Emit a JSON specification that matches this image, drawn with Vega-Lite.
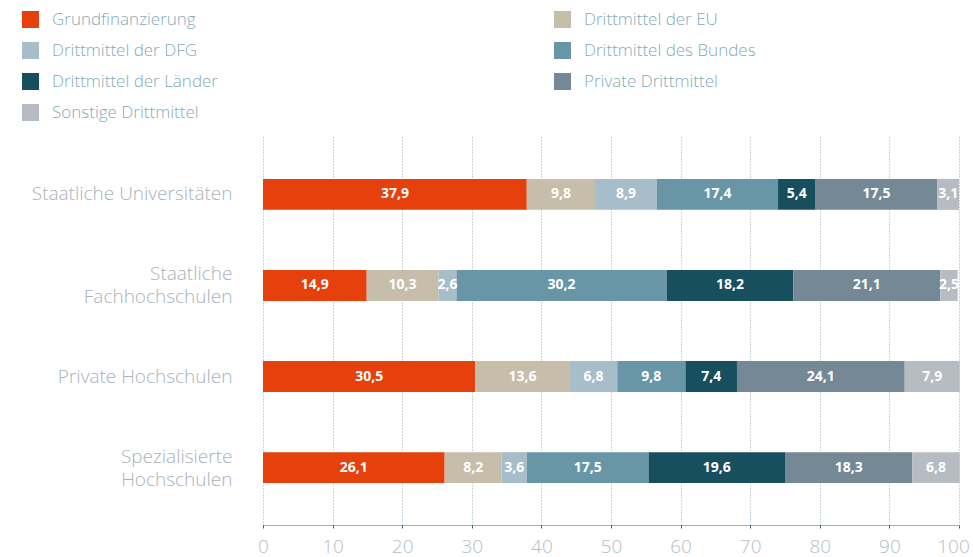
{
  "$schema": "https://vega.github.io/schema/vega-lite/v6.json",
  "width": 696,
  "height": 388,
  "autosize": "none",
  "padding": {"left": 263, "top": 137, "right": 14, "bottom": 32},
  "background": "white",
  "config": {
    "view": {"stroke": null},
    "locale": {"number": {"decimal": ",", "thousands": ".", "grouping": [3], "currency": ["", " €"]}}
  },
  "data": {
    "values": [
      {"hs": "Staatliche Universitäten", "quelle": "Grundfinanzierung", "ord": 1, "wert": 37.9},
      {"hs": "Staatliche Universitäten", "quelle": "Drittmittel der EU", "ord": 2, "wert": 9.8},
      {"hs": "Staatliche Universitäten", "quelle": "Drittmittel der DFG", "ord": 3, "wert": 8.9},
      {"hs": "Staatliche Universitäten", "quelle": "Drittmittel des Bundes", "ord": 4, "wert": 17.4},
      {"hs": "Staatliche Universitäten", "quelle": "Drittmittel der Länder", "ord": 5, "wert": 5.4},
      {"hs": "Staatliche Universitäten", "quelle": "Private Drittmittel", "ord": 6, "wert": 17.5},
      {"hs": "Staatliche Universitäten", "quelle": "Sonstige Drittmittel", "ord": 7, "wert": 3.1},
      {"hs": "Staatliche|Fachhochschulen", "quelle": "Grundfinanzierung", "ord": 1, "wert": 14.9},
      {"hs": "Staatliche|Fachhochschulen", "quelle": "Drittmittel der EU", "ord": 2, "wert": 10.3},
      {"hs": "Staatliche|Fachhochschulen", "quelle": "Drittmittel der DFG", "ord": 3, "wert": 2.6},
      {"hs": "Staatliche|Fachhochschulen", "quelle": "Drittmittel des Bundes", "ord": 4, "wert": 30.2},
      {"hs": "Staatliche|Fachhochschulen", "quelle": "Drittmittel der Länder", "ord": 5, "wert": 18.2},
      {"hs": "Staatliche|Fachhochschulen", "quelle": "Private Drittmittel", "ord": 6, "wert": 21.1},
      {"hs": "Staatliche|Fachhochschulen", "quelle": "Sonstige Drittmittel", "ord": 7, "wert": 2.5},
      {"hs": "Private Hochschulen", "quelle": "Grundfinanzierung", "ord": 1, "wert": 30.5},
      {"hs": "Private Hochschulen", "quelle": "Drittmittel der EU", "ord": 2, "wert": 13.6},
      {"hs": "Private Hochschulen", "quelle": "Drittmittel der DFG", "ord": 3, "wert": 6.8},
      {"hs": "Private Hochschulen", "quelle": "Drittmittel des Bundes", "ord": 4, "wert": 9.8},
      {"hs": "Private Hochschulen", "quelle": "Drittmittel der Länder", "ord": 5, "wert": 7.4},
      {"hs": "Private Hochschulen", "quelle": "Private Drittmittel", "ord": 6, "wert": 24.1},
      {"hs": "Private Hochschulen", "quelle": "Sonstige Drittmittel", "ord": 7, "wert": 7.9},
      {"hs": "Spezialisierte|Hochschulen", "quelle": "Grundfinanzierung", "ord": 1, "wert": 26.1},
      {"hs": "Spezialisierte|Hochschulen", "quelle": "Drittmittel der EU", "ord": 2, "wert": 8.2},
      {"hs": "Spezialisierte|Hochschulen", "quelle": "Drittmittel der DFG", "ord": 3, "wert": 3.6},
      {"hs": "Spezialisierte|Hochschulen", "quelle": "Drittmittel des Bundes", "ord": 4, "wert": 17.5},
      {"hs": "Spezialisierte|Hochschulen", "quelle": "Drittmittel der Länder", "ord": 5, "wert": 19.6},
      {"hs": "Spezialisierte|Hochschulen", "quelle": "Private Drittmittel", "ord": 6, "wert": 18.3},
      {"hs": "Spezialisierte|Hochschulen", "quelle": "Sonstige Drittmittel", "ord": 7, "wert": 6.8}
    ]
  },
  "transform": [
    {"stack": "wert", "groupby": ["hs"], "sort": [{"field": "ord", "order": "ascending"}], "as": ["x0", "x1"]},
    {"calculate": "(datum.x0 + datum.x1) / 2", "as": "xm"}
  ],
  "encoding": {
    "y": {
      "field": "hs",
      "type": "nominal",
      "sort": ["Staatliche Universitäten", "Staatliche|Fachhochschulen", "Private Hochschulen", "Spezialisierte|Hochschulen"],
      "scale": {"paddingInner": 0.66, "paddingOuter": 0.46},
      "axis": {
        "title": null,
        "domain": false,
        "ticks": false,
        "labelExpr": "split(datum.label, '|')",
        "labelFont": "Open Sans",
        "labelFontWeight": 300,
        "labelFontSize": 19,
        "labelColor": "#a9b2ba",
        "labelPadding": 31,
        "labelBaseline": "middle",
        "labelOffset": {"condition": {"test": "indexof(datum.value, '|') >= 0", "value": -11}, "value": 0},
        "labelLineHeight": 23,
        "labelLimit": 300
      }
    }
  },
  "layer": [
    {
      "mark": {"type": "bar"},
      "encoding": {
        "x": {
          "field": "x0",
          "type": "quantitative",
          "scale": {"domain": [0, 100], "nice": false},
          "axis": {
            "title": null,
            "values": [0, 10, 20, 30, 40, 50, 60, 70, 80, 90, 100],
            "grid": true,
            "gridDash": [1, 2],
            "gridColor": "#9aaab8",
            "gridWidth": 1,
            "domainColor": "#2c6b7c",
            "domainDash": [1, 1],
            "domainWidth": 1,
            "tickColor": "#2c6b7c",
            "tickSize": 3,
            "labelFont": "Open Sans",
            "labelFontWeight": 300,
            "labelFontSize": 19,
            "labelColor": "#b6bec6",
            "labelPadding": 9,
            "labelOffset": {"condition": {"test": "datum.value == 100", "value": -6}, "value": 0},
            "labelFlush": false
          }
        },
        "x2": {"field": "x1"},
        "color": {
          "field": "quelle",
          "type": "nominal",
          "scale": {
            "domain": ["Grundfinanzierung", "Drittmittel der DFG", "Drittmittel der Länder", "Sonstige Drittmittel", "Drittmittel der EU", "Drittmittel des Bundes", "Private Drittmittel"],
            "range": ["#e6400c", "#a7bdc9", "#174f5f", "#b6bcc2", "#c6beab", "#6896a6", "#748895"]
          },
          "legend": {
            "title": null,
            "orient": "none",
            "legendX": -241,
            "legendY": -126,
            "columns": 2,
            "columnPadding": 336,
            "rowPadding": 13,
            "symbolType": "square",
            "symbolSize": 289,
            "symbolStrokeWidth": 0,
            "labelOffset": 13,
            "labelFont": "Open Sans",
            "labelFontWeight": 300,
            "labelFontSize": 17,
            "labelColor": "#85aab9",
            "labelLimit": 300
          }
        }
      }
    },
    {
      "mark": {"type": "text", "color": "white", "font": "Open Sans", "fontWeight": "bold", "fontSize": 14, "align": "center", "baseline": "middle"},
      "encoding": {
        "x": {"field": "xm", "type": "quantitative"},
        "text": {"field": "wert", "type": "quantitative", "format": ".1f"}
      }
    }
  ]
}
